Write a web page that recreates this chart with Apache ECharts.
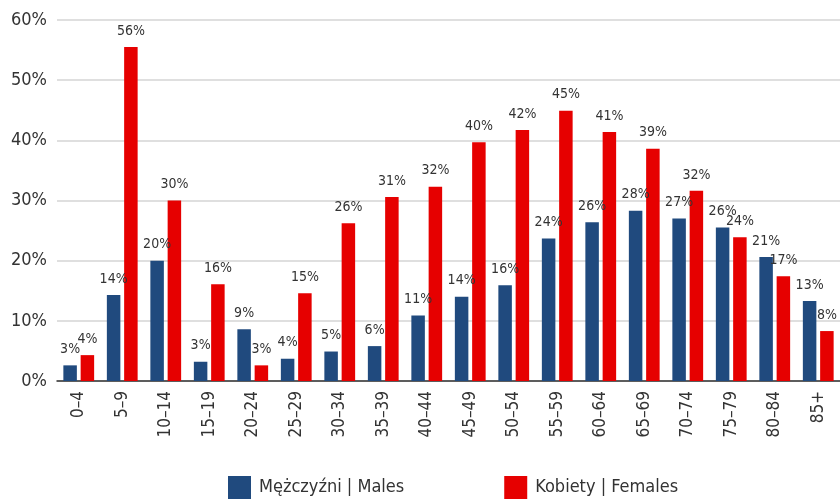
<!DOCTYPE html>
<html>
<head>
<meta charset="utf-8">
<script src="https://cdn.jsdelivr.net/npm/echarts@6/dist/echarts.min.js"></script>
<style>
  html, body { margin: 0; padding: 0; background: #fff; }
  #chart { width: 840px; height: 499px; }
</style>
</head>
<body>
<div id="chart"></div>
<script>
// age groups
var ageGroups = ['0–4', '5–9', '10–14', '15–19', '20–24', '25–29', '30–34', '35–39', '40–44',
                 '45–49', '50–54', '55–59', '60–64', '65–69', '70–74', '75–79', '80–84', '85+'];
// percentages
var males   = [2.6, 14.3, 20.0, 3.2, 8.6, 3.7, 4.9, 5.8, 10.9, 14.0, 15.9, 23.7, 26.4, 28.3, 27.0, 25.5, 20.6, 13.3];
var females = [4.3, 55.5, 30.0, 16.1, 2.6, 14.6, 26.2, 30.6, 32.3, 39.7, 41.7, 44.9, 41.4, 38.6, 31.6, 23.9, 17.4, 8.3];
var seriesNames = ['Mężczyźni | Males', 'Kobiety | Females'];

var font = '"Liberation Sans Narrow", "DejaVu Sans Condensed", "Noto Sans", sans-serif';

var myChart = echarts.init(document.getElementById('chart'));

var labelOpt = {
    show: true,
    position: 'top',
    distance: 9,
    color: '#333',
    fontSize: 14,
    fontFamily: font,
    formatter: function (p) {
        return Math.round(p.value) + '%';
    }
};

var option = {
    animation: false,
    grid: {
        left: 57,
        right: -10,
        top: 20,
        bottom: 118
    },
    legend: {
        data: seriesNames,
        top: 471,
        left: 223,
        itemWidth: 23,
        itemHeight: 23,
        itemGap: 100,
        icon: 'rect',
        textStyle: {
            color: '#333',
            fontSize: 18,
            fontFamily: font,
            padding: [0, 0, 0, 3]
        }
    },
    xAxis: {
        type: 'category',
        data: ageGroups,
        axisLine: { lineStyle: { color: '#333', width: 1.5 } },
        axisTick: { show: false },
        axisLabel: {
            rotate: 90,
            interval: 0,
            margin: 10,
            color: '#333',
            fontSize: 17,
            fontFamily: font
        }
    },
    yAxis: {
        type: 'value',
        min: 0,
        max: 60,
        interval: 10,
        axisLine: { show: false },
        axisTick: { show: false },
        axisLabel: {
            formatter: '{value}%',
            margin: 10,
            color: '#333',
            fontSize: 18,
            fontFamily: font
        },
        splitLine: { lineStyle: { color: '#d4d4d4', width: 1.5 } }
    },
    series: [
        {
            name: seriesNames[0],
            type: 'bar',
            data: males,
            barWidth: 13.5,
            barGap: '28%',
            itemStyle: { color: '#204a7e' },
            label: labelOpt
        },
        {
            name: seriesNames[1],
            type: 'bar',
            data: females,
            barWidth: 13.5,
            itemStyle: { color: '#e60000' },
            label: labelOpt
        }
    ]
};

myChart.setOption(option);
</script>
</body>
</html>
